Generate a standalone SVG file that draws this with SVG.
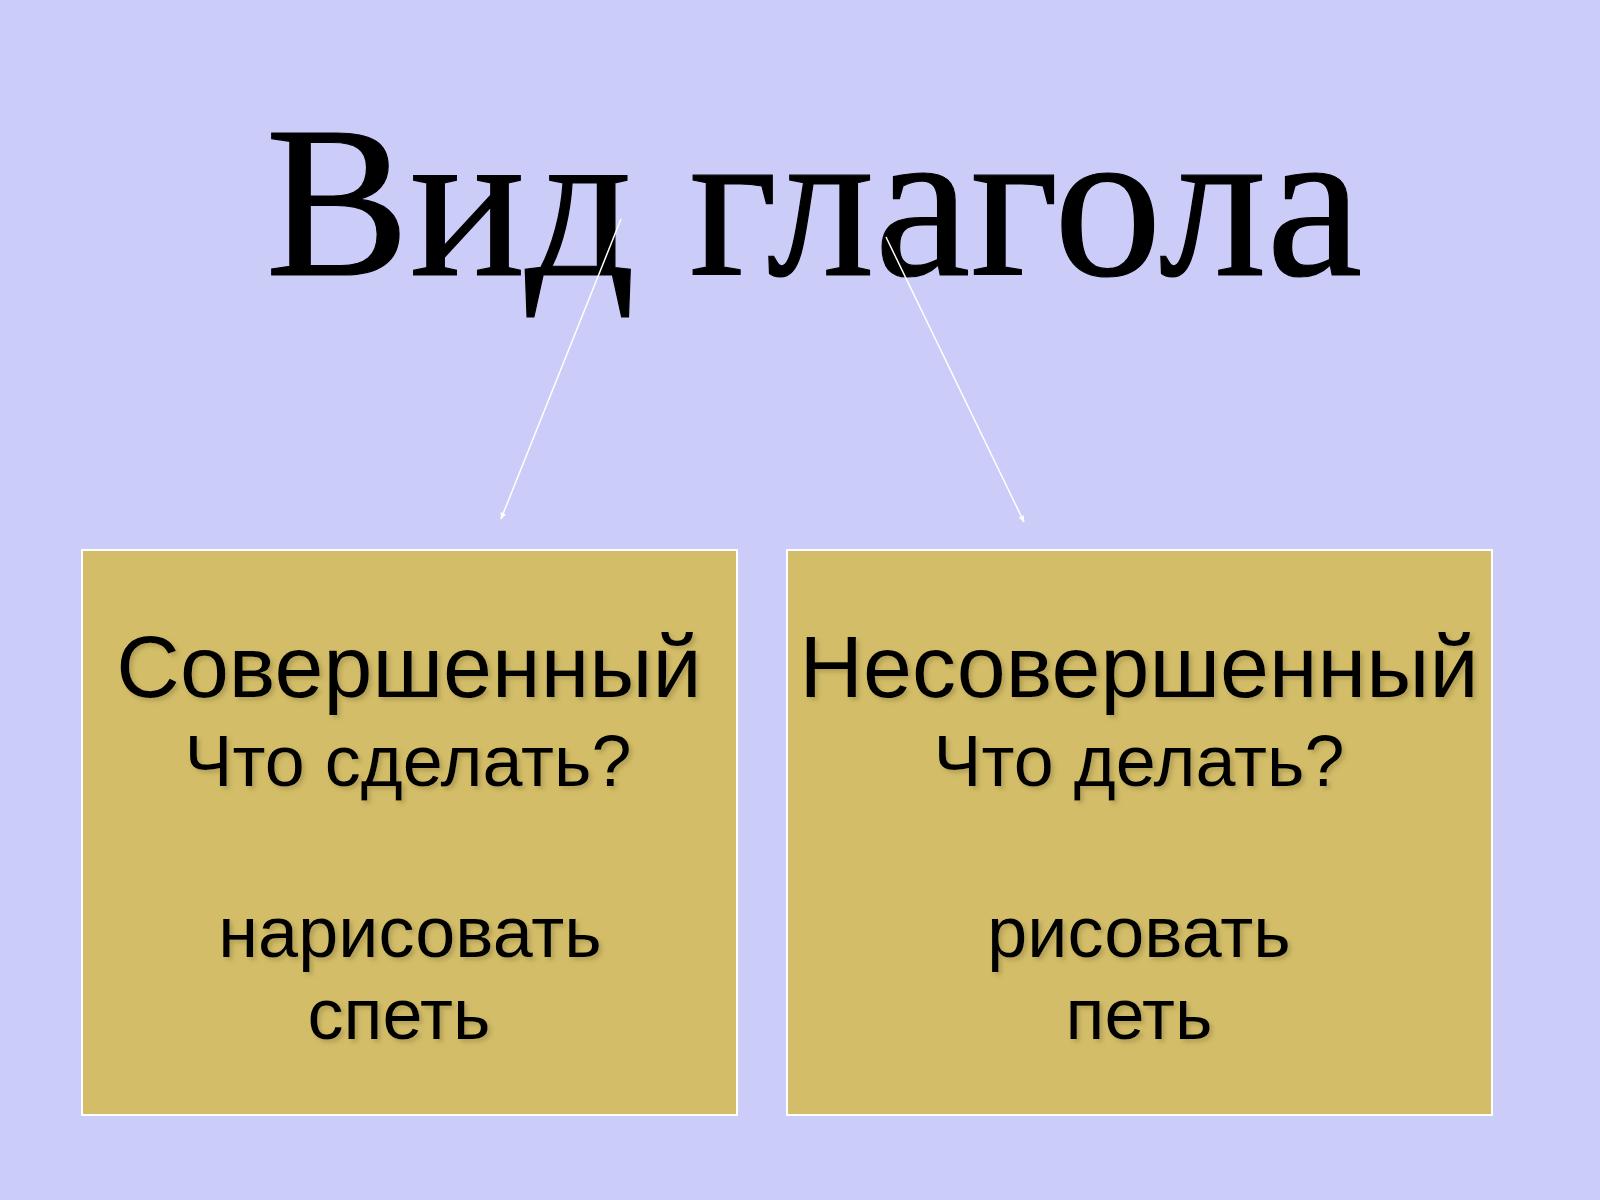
<svg xmlns="http://www.w3.org/2000/svg" width="1600" height="1200" viewBox="0 0 1600 1200">
<style>
.title{font-family:"Liberation Serif","Times New Roman",serif;font-size:216px;fill:#000;stroke:#000;stroke-width:1.2;}
.box{fill:#D3BD68;stroke:#FFFFFF;stroke-width:2;}
.h{font-family:"Liberation Sans",Arial,sans-serif;font-size:88px;fill:#000;text-anchor:middle;filter:url(#sh);}
.q{font-family:"Liberation Sans",Arial,sans-serif;font-size:72px;fill:#000;text-anchor:middle;filter:url(#sh);}
.w{font-family:"Liberation Sans",Arial,sans-serif;font-size:72px;fill:#000;text-anchor:middle;filter:url(#sh);}
.conn{stroke:#FFFFFF;stroke-width:1.5;fill:none;marker-end:url(#ah);}
</style>
<defs>
<marker id="ah" viewBox="0 0 10 10" refX="9" refY="5" markerWidth="7" markerHeight="7" orient="auto" markerUnits="userSpaceOnUse">
<path d="M0,1 L10,5 L0,9 z" fill="#FFFFFF"/>
</marker>
<filter id="sh" x="-10%" y="-20%" width="120%" height="140%">
<feDropShadow dx="3" dy="3" stdDeviation="2" flood-color="#8a7a40" flood-opacity="0.45"/>
</filter>
</defs>
<rect x="0" y="0" width="1600" height="1200" fill="#CCCCF8"/>
<g id="title">
<text class="title" x="814" y="275" text-anchor="middle">Вид глагола</text>
</g>
<g id="connectors">
<line class="conn" x1="621" y1="219" x2="501" y2="519"/>
<line class="conn" x1="886" y1="237" x2="1024" y2="522"/>
</g>
<g id="perfective">
<rect class="box" x="82" y="550" width="655" height="565"/>
<text class="h" x="409" y="697">Совершенный</text>
<text class="q" x="408" y="786">Что сделать?</text>
<text class="w" x="410" y="957">нарисовать</text>
<text class="w" x="399" y="1039">спеть</text>
</g>
<g id="imperfective">
<rect class="box" x="787" y="550" width="705" height="565"/>
<text class="h" x="1139" y="697">Несовершенный</text>
<text class="q" x="1139" y="786">Что делать?</text>
<text class="w" x="1139" y="957">рисовать</text>
<text class="w" x="1139" y="1039">петь</text>
</g>
</svg>
